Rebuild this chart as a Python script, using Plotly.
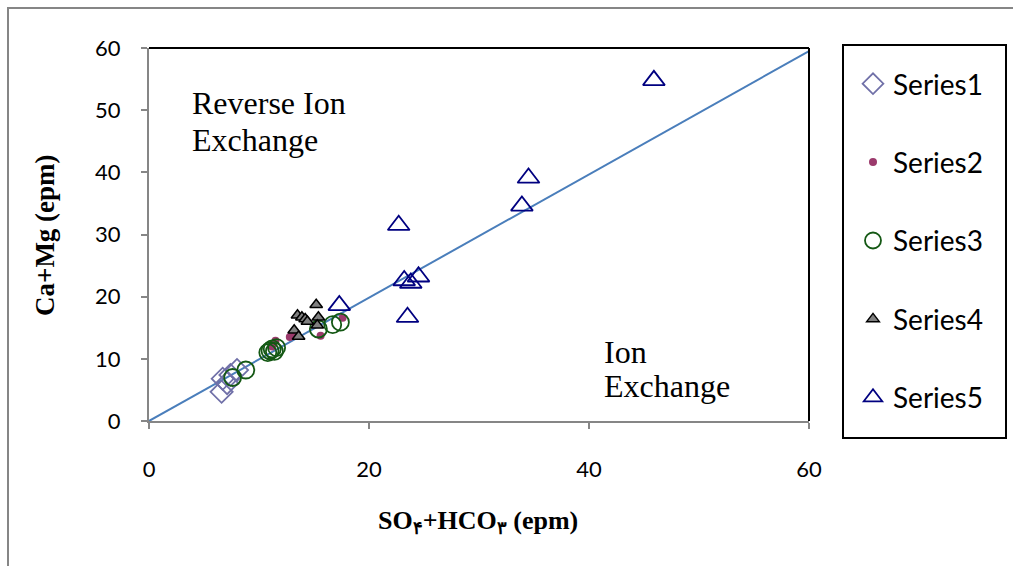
import plotly.graph_objects as go

# ---- data ----
s1_x = [6.7, 7.4, 6.6, 8.0, 7.1]
s1_y = [6.8, 7.4, 4.7, 8.2, 6.1]
s2_x = [11.5, 12.8, 15.6, 17.6, 11.2, 13.3]
s2_y = [12.9, 13.5, 13.7, 16.6, 12.0, 13.9]
s3_x = [7.6, 8.8, 10.8, 11.0, 11.2, 11.4, 11.6, 15.4, 16.7, 17.4]
s3_y = [7.0, 8.2, 11.0, 11.3, 11.6, 11.2, 11.8, 14.8, 15.5, 15.9]
s4_x = [15.2, 13.5, 13.9, 14.2, 14.4, 15.4, 15.3, 13.2, 13.6]
s4_y = [18.7, 17.0, 16.7, 16.4, 16.0, 16.7, 15.4, 14.6, 13.6]
s5_x = [45.9, 34.5, 33.9, 22.7, 23.2, 23.8, 24.5, 23.5, 17.3]
s5_y = [54.8, 39.1, 34.6, 31.5, 22.6, 22.2, 23.2, 16.7, 18.6]
line_x = [0, 60]
line_y = [0, 59.5]
tick_vals = [0, 10, 20, 30, 40, 50, 60]
x_tick_vals = [0, 20, 40, 60]

W, H = 1013, 566
L, R, T, B = 149, 809, 48, 421

fig = go.Figure()
fig.add_trace(go.Scatter(x=line_x, y=line_y, mode="lines",
                         line=dict(color="#4a7ebb", width=2), showlegend=False, hoverinfo="skip"))
fig.add_trace(go.Scatter(x=s1_x, y=s1_y, mode="markers", name="Series1", legendgroup="1",
                         marker=dict(symbol="diamond-open", size=17, color="#7070a8", line=dict(width=1.8))))
fig.add_trace(go.Scatter(x=s2_x, y=s2_y, mode="markers", name="Series2", legendgroup="2",
                         marker=dict(symbol="circle", size=8, color="#9b3a6c", line=dict(width=0))))
fig.add_trace(go.Scatter(x=s3_x, y=s3_y, mode="markers", name="Series3", legendgroup="3",
                         marker=dict(symbol="circle-open", size=17, color="#145814", line=dict(width=1.8))))
fig.add_trace(go.Scatter(x=s4_x, y=s4_y, mode="markers", name="Series4", legendgroup="4",
                         marker=dict(symbol="triangle-up", size=11, color="#808080",
                                     line=dict(width=1.5, color="#000000"))))
fig.add_trace(go.Scatter(x=s5_x, y=s5_y, mode="markers", name="Series5", legendgroup="5",
                         marker=dict(symbol="triangle-up-open", size=19, color="#000080", line=dict(width=1.8))))

def px_x(p):
    return (p - L) / (R - L)

def px_y(p):
    return (B - p) / (B - T)

axis_common = dict(showgrid=False, zeroline=False, showline=True, linecolor="#868686", linewidth=2,
                   ticks="outside", ticklen=6, tickcolor="#868686", tickwidth=2,
                   tickfont=dict(family="Lato", size=22, color="#000000"))

serif = "Liberation Serif"

def label(text, x, y_px, size=32):
    return dict(text=text, x=x, y=px_y(y_px), xref="x", yref="paper",
                xanchor="left", yanchor="middle", align="left", showarrow=False,
                font=dict(family=serif, size=size, color="#000000"))

fig.update_layout(
    width=W, height=H,
    margin=dict(l=L, r=W - R, t=T, b=H - B),
    paper_bgcolor="white", plot_bgcolor="white",
    xaxis=dict(range=[0, 60], tickvals=x_tick_vals, ticklabelstandoff=22, **axis_common),
    yaxis=dict(range=[0, 60], tickvals=tick_vals, ticklabelstandoff=16, **axis_common),
    legend=dict(x=px_x(853), y=px_y(59), xanchor="left", yanchor="top",
                font=dict(family="Lato", size=28, color="#000000"),
                tracegroupgap=39, borderwidth=0, bgcolor="rgba(0,0,0,0)", itemwidth=30,
                maxheight=600),
    showlegend=True,
    shapes=[
        # outer chart border
        dict(type="rect", xref="paper", yref="paper", x0=px_x(8), y0=px_y(600), x1=px_x(1100), y1=px_y(8),
             line=dict(color="#868686", width=2), layer="below"),
        # plot area top/right border
        dict(type="line", xref="paper", yref="paper", x0=0, y0=1, x1=1, y1=1,
             line=dict(color="#000000", width=2)),
        dict(type="line", xref="paper", yref="paper", x0=1, y0=0, x1=1, y1=1,
             line=dict(color="#000000", width=2)),
        # legend box
        dict(type="rect", xref="paper", yref="paper", x0=px_x(843), y0=px_y(438), x1=px_x(1006), y1=px_y(45),
             line=dict(color="#000000", width=2)),
    ],
    annotations=[
        label("Reverse Ion", 3.75, 103),
        label("Exchange", 3.75, 140),
        label("Ion", 41.2, 352),
        label("Exchange", 41.2, 386),
        dict(text="<b>Ca+Mg (epm)</b>", x=px_x(45), y=px_y(235), xref="paper", yref="paper",
             textangle=-90, showarrow=False, xanchor="center", yanchor="middle",
             font=dict(family=serif, size=27, color="#000000")),
        dict(text="<b>SO<sub>۴</sub>+HCO<sub>۳</sub> (epm)</b>", x=px_x(478), y=px_y(522),
             xref="paper", yref="paper", showarrow=False, xanchor="center", yanchor="middle",
             font=dict(family=serif, size=26, color="#000000")),
    ],
)

fig.write_html("out.html")
